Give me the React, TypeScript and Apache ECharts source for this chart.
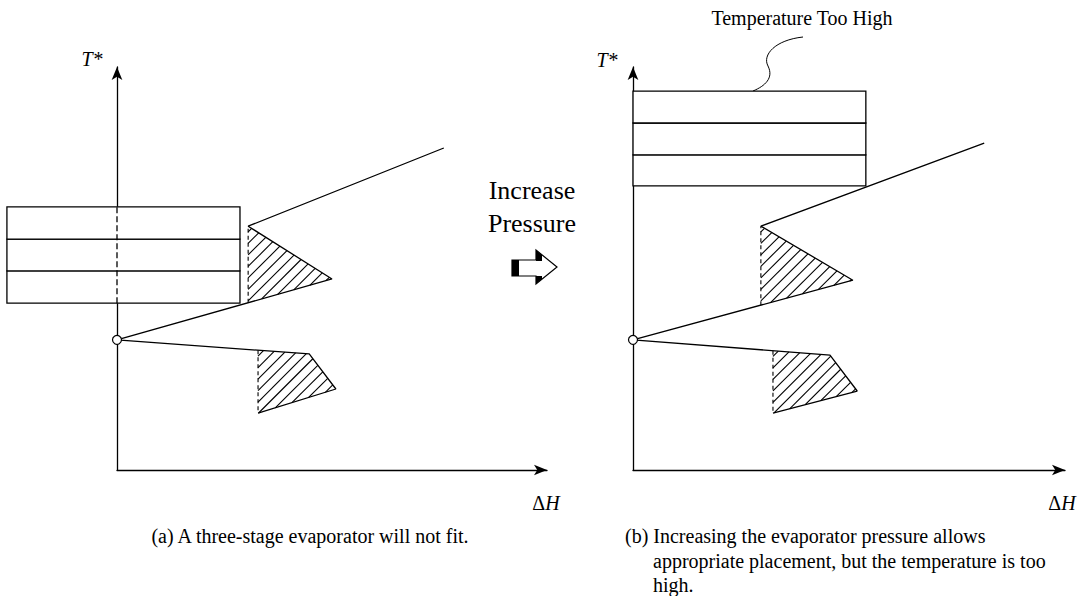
import React, { useEffect, useRef } from "react";
import * as echarts from "echarts";

// ---------- Panel (a): three-stage evaporator will not fit ----------
// Grand composite curve (ΔH, T*), drawn in order
const gccA: number[][] = [
  [32.8, 14.1], [50.9, 20.1], [44.7, 28.8], [0, 32.3],
  [50.0, 47.4], [30.5, 60.5], [76.0, 79.9],
];
const pivotA: number[][] = [[0, 32.3]];
// evaporator stages: [ΔH start, ΔH end, T* low, T* high]
const stagesA: number[][] = [
  [-25.6, 28.6, 41.4, 49.4],
  [-25.6, 28.6, 49.4, 57.3],
  [-25.6, 28.6, 57.3, 65.3],
];
const axisDashA: number[][] = [[0, 41.4], [0, 65.3]];
// shaded pockets (first/last vertex joined by dashed edge)
const pocketsA: number[][][] = [
  [[30.5, 41.5], [50.0, 47.4], [30.5, 60.5]],
  [[32.8, 29.7], [44.7, 28.8], [50.9, 20.1], [32.8, 14.1]],
];

// ---------- Panel (b): increased evaporator pressure ----------
const gccB: number[][] = [
  [32.4, 14.1], [51.9, 19.6], [45.6, 28.5], [0, 32.3],
  [50.9, 47.1], [29.6, 60.5], [81.3, 81.1],
];
const pivotB: number[][] = [[0, 32.3]];
const stagesB: number[][] = [
  [0, 53.9, 70.5, 78.2],
  [0, 53.9, 78.2, 86.1],
  [0, 53.9, 86.1, 94.0],
];
const pocketsB: number[][][] = [
  [[29.6, 40.9], [50.9, 47.1], [29.6, 60.5]],
  [[32.4, 29.6], [45.6, 28.5], [51.9, 19.6], [32.4, 14.1]],
];

const SERIF = '"Liberation Serif", "Times New Roman", serif';
const HATCH_STEP = 11.5;

function hatchRender(polys: number[][][]) {
  return (params: any, api: any) => {
    const poly = polys[params.dataIndex];
    const pts = poly.map((p) => api.coord(p));
    const children: any[] = [];
    let cmin = Infinity;
    let cmax = -Infinity;
    pts.forEach((p: number[]) => {
      cmin = Math.min(cmin, p[0] + p[1]);
      cmax = Math.max(cmax, p[0] + p[1]);
    });
    for (let c = cmin + HATCH_STEP / 2; c < cmax; c += HATCH_STEP) {
      const hits: number[][] = [];
      for (let i = 0; i < pts.length; i++) {
        const a = pts[i];
        const b = pts[(i + 1) % pts.length];
        const fa = a[0] + a[1] - c;
        const fb = b[0] + b[1] - c;
        if ((fa <= 0 && fb > 0) || (fa > 0 && fb <= 0)) {
          const t = fa / (fa - fb);
          hits.push([a[0] + t * (b[0] - a[0]), a[1] + t * (b[1] - a[1])]);
        }
      }
      if (hits.length >= 2) {
        hits.sort((u, v) => u[0] - v[0]);
        const p = hits[0];
        const q = hits[hits.length - 1];
        children.push({
          type: "line",
          shape: { x1: p[0], y1: p[1], x2: q[0], y2: q[1] },
          style: { stroke: "#000", lineWidth: 1.1 },
        });
      }
    }
    const f = pts[0];
    const l = pts[pts.length - 1];
    children.push({
      type: "line",
      shape: { x1: f[0], y1: f[1], x2: l[0], y2: l[1] },
      style: { stroke: "#000", lineWidth: 1.1, lineDash: [4, 3] },
    });
    return { type: "group", children };
  };
}

function stageRender(params: any, api: any) {
  const p0 = api.coord([api.value(0), api.value(3)]);
  const p1 = api.coord([api.value(1), api.value(2)]);
  return {
    type: "rect",
    shape: { x: p0[0], y: p0[1], width: p1[0] - p0[0], height: p1[1] - p0[1] },
    style: { fill: "#fff", stroke: "#000", lineWidth: 1.3 },
  };
}

function axisCommon(gridIndex: number) {
  return {
    gridIndex,
    type: "value" as const,
    min: 0,
    max: 100,
    axisLine: {
      show: true,
      onZero: false,
      symbol: ["none", "arrow"],
      symbolSize: [8, 13],
      lineStyle: { color: "#000", width: 1.3 },
    },
    axisTick: { show: false },
    axisLabel: { show: false },
    splitLine: { show: false },
  };
}

function panelSeries(
  idx: number,
  gcc: number[][],
  pivot: number[][],
  stages: number[][],
  pockets: number[][][],
  axisDash: number[][] | null
) {
  const s: any[] = [
    {
      type: "custom",
      xAxisIndex: idx,
      yAxisIndex: idx,
      renderItem: stageRender,
      data: stages,
      z: 3,
      silent: true,
    },
    {
      type: "custom",
      xAxisIndex: idx,
      yAxisIndex: idx,
      renderItem: hatchRender(pockets),
      data: pockets.map((_, i) => [i]),
      z: 4,
      silent: true,
    },
    {
      type: "line",
      xAxisIndex: idx,
      yAxisIndex: idx,
      data: gcc,
      symbol: "none",
      lineStyle: { color: "#000", width: 1.3 },
      z: 5,
      silent: true,
    },
    {
      type: "scatter",
      xAxisIndex: idx,
      yAxisIndex: idx,
      data: pivot,
      symbol: "circle",
      symbolSize: 9,
      itemStyle: { color: "#fff", borderColor: "#000", borderWidth: 1.2, opacity: 1 },
      z: 6,
      silent: true,
    },
  ];
  if (axisDash) {
    s.push({
      type: "line",
      xAxisIndex: idx,
      yAxisIndex: idx,
      data: axisDash,
      symbol: "none",
      lineStyle: { color: "#000", width: 1.3, type: [6, 3] },
      z: 5,
      silent: true,
    });
  }
  return s;
}

function txt(text: string, x: number, y: number, size: number, align = "center", italic = false) {
  return {
    type: "text",
    x,
    y,
    silent: true,
    style: {
      text,
      fill: "#000",
      fontSize: size,
      fontFamily: SERIF,
      fontStyle: italic ? "italic" : "normal",
      align,
      verticalAlign: "middle",
    },
  };
}

function deltaH(x: number, y: number) {
  return {
    type: "text",
    x,
    y,
    silent: true,
    style: {
      text: "{d|Δ}{h|H}",
      align: "center",
      verticalAlign: "middle",
      rich: {
        d: { fontSize: 20, fontFamily: SERIF, fill: "#000" },
        h: { fontSize: 20, fontFamily: SERIF, fontStyle: "italic", fill: "#000" },
      },
    },
  };
}

export default function App() {
  const ref = useRef<HTMLDivElement>(null);
  useEffect(() => {
    if (!ref.current) return;
    const chart = echarts.init(ref.current, null, { renderer: "svg" });
    chart.setOption({
      animation: false,
      backgroundColor: "#fff",
      grid: [
        { left: 117, top: 67, width: 430, height: 403 },
        { left: 633, top: 67, width: 432, height: 403 },
      ],
      xAxis: [axisCommon(0), axisCommon(1)],
      yAxis: [axisCommon(0), axisCommon(1)],
      series: [
        ...panelSeries(0, gccA, pivotA, stagesA, pocketsA, axisDashA),
        ...panelSeries(1, gccB, pivotB, stagesB, pocketsB, null),
      ],
      graphic: [
        txt("T*", 92, 59, 20, "center", true),
        txt("T*", 607, 60, 20, "center", true),
        deltaH(546, 503),
        deltaH(1062, 503),
        txt("Increase", 532, 190, 26),
        txt("Pressure", 532, 223, 26),
        txt("Temperature Too High", 802, 18, 20),
        {
          type: "bezierCurve",
          silent: true,
          shape: { x1: 803, y1: 37, cpx1: 775, cpy1: 40, cpx2: 762, cpy2: 55, x2: 768, y2: 66 },
          style: { stroke: "#000", lineWidth: 1, fill: null },
        },
        {
          type: "bezierCurve",
          silent: true,
          shape: { x1: 768, y1: 66, cpx1: 774, cpy1: 78, cpx2: 765, cpy2: 86, x2: 753, y2: 91 },
          style: { stroke: "#000", lineWidth: 1, fill: null },
        },
        {
          type: "polygon",
          silent: true,
          shape: {
            points: [[512, 260], [536, 260], [536, 250], [557, 267], [536, 284], [536, 276], [512, 276]],
          },
          style: { fill: "#fff", stroke: "#000", lineWidth: 1.2 },
        },
        {
          type: "polygon",
          silent: true,
          shape: { points: [[512, 260], [519, 260], [519, 276], [512, 276]] },
          style: { fill: "#000" },
        },
        {
          type: "polygon",
          silent: true,
          shape: { points: [[536, 250], [542, 255], [542, 261], [536, 261]] },
          style: { fill: "#000" },
        },
        {
          type: "polygon",
          silent: true,
          shape: { points: [[536, 276], [542, 276], [542, 279], [536, 284]] },
          style: { fill: "#000" },
        },
        txt("(a) A three-stage evaporator will not fit.", 310, 536, 20),
        txt("(b) Increasing the evaporator pressure allows", 625, 536, 20, "left"),
        txt("appropriate placement, but the temperature is too", 653, 561, 20, "left"),
        txt("high.", 653, 585, 20, "left"),
      ],
    });
    return () => chart.dispose();
  }, []);
  return (
    <div
      ref={ref}
      style={{ position: "fixed", left: 0, top: 0, width: 1081, height: 596, background: "#fff" }}
    />
  );
}
